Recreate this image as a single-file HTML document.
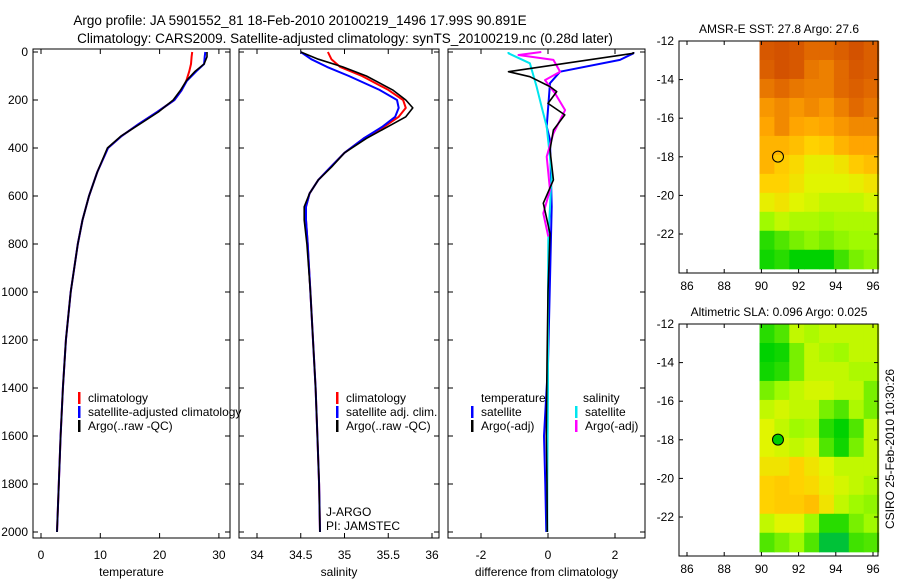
<!DOCTYPE html>
<html><head><meta charset="utf-8">
<style>
html,body{margin:0;padding:0;background:#fff;}
svg{display:block;font-family:"Liberation Sans",Arial,sans-serif;}
</style></head>
<body>
<svg id="fig" width="900" height="580" viewBox="0 0 900 580" xmlns="http://www.w3.org/2000/svg">
<text x="300" y="25" font-size="13.5" text-anchor="middle">Argo profile: JA 5901552_81 18-Feb-2010 20100219_1496 17.99S 90.891E</text>
<text x="345" y="43" font-size="13.5" text-anchor="middle">Climatology: CARS2009. Satellite-adjusted climatology: synTS_20100219.nc (0.28d later)</text>
<g id="g"></g>
</svg>
<script>
// ---------- data ----------
const tDepth = [0,20,50,80,120,160,200,250,300,350,400,500,600,700,800,1000,1200,1400,1600,1800,2000];
const tArgo  = [28.0,28.0,27.5,26.0,24.5,23.5,22.3,19.8,16.7,13.5,11.2,9.5,8.1,7.0,6.2,5.0,4.2,3.7,3.3,3.0,2.7];
const tClim  = [25.5,25.4,25.3,25.0,24.5,23.7,22.5,19.6,16.5,13.6,11.3,9.5,8.1,7.0,6.2,5.0,4.2,3.7,3.3,3.0,2.7];
const tSat   = [27.7,27.6,27.5,26.2,24.6,23.7,22.5,19.6,16.5,13.6,11.3,9.5,8.1,7.0,6.2,5.0,4.2,3.7,3.3,3.0,2.7];

const sDepth = [0,30,62,100,158,200,233,270,312,360,420,480,533,590,645,700,800,1000,1200,1400,1600,1800,2000];
const sArgo  = [34.50,34.70,34.98,35.25,35.55,35.70,35.78,35.70,35.49,35.25,35.00,34.85,34.70,34.60,34.54,34.54,34.57,34.61,34.64,34.67,34.69,34.71,34.72];
const sClim  = [34.81,34.85,34.95,35.20,35.50,35.67,35.70,35.62,35.45,35.22,35.00,34.84,34.70,34.60,34.56,34.56,34.58,34.61,34.64,34.67,34.69,34.71,34.72];
const sSat   = [34.50,34.62,34.80,35.05,35.40,35.60,35.62,35.58,35.43,35.22,35.00,34.84,34.70,34.60,34.56,34.56,34.58,34.61,34.64,34.67,34.69,34.71,34.72];

const dBlkDepth = [0,5.6,82,103,144,165,214,262,325,408,533,630,756,1000,1300,1600,1800,2000];
const dBlkVal   = [2.55,2.55,-1.18,-0.54,0.06,0.26,0.0,0.5,0.16,0.06,0.16,-0.14,0.06,0.0,-0.03,-0.05,-0.03,-0.02];
const dBluDepth = [0,5.6,33,82,130,311,367,644,1000,1300,1600,1800,2000];
const dBluVal   = [2.55,2.55,2.15,0.36,0.06,-0.04,0.06,0.11,0.05,0.0,-0.12,-0.08,-0.05];
const dMagDepth = [0,12.5,33,82,117,172,242,339,436,575,672,769];
const dMagVal   = [-0.2,-0.88,0.16,0.36,-0.09,0.21,0.51,0.16,-0.04,0.06,-0.14,0.01];
const dCyaDepth = [0,5.6,47,144,228,311,506,783,1000,1400,1800,2000];
const dCyaVal   = [-1.18,-1.18,-0.54,-0.34,-0.19,-0.04,0.11,0.01,0.0,0.0,-0.02,-0.02];

const depthTicks = [0,200,400,600,800,1000,1200,1400,1600,1800,2000];
const tTicks = [0,10,20,30];
const sTicks = [34,34.5,35,35.5,36];
const sTickLabels = ["34","34.5","35","35.5","36"];
const dTicks = [-2,0,2];
const lonTicks = [86,88,90,92,94,96];
const latTicks = [-12,-14,-16,-18,-20,-22];

const sstGrid = [
[0.90,0.92,0.90,0.85,0.85,0.88,0.92,0.88],
[0.88,0.92,0.90,0.82,0.80,0.85,0.90,0.88],
[0.82,0.85,0.82,0.80,0.80,0.85,0.88,0.85],
[0.75,0.78,0.75,0.78,0.75,0.80,0.85,0.82],
[0.72,0.78,0.72,0.70,0.72,0.75,0.78,0.78],
[0.68,0.68,0.65,0.60,0.62,0.68,0.72,0.72],
[0.68,0.62,0.58,0.52,0.52,0.55,0.62,0.65],
[0.60,0.60,0.55,0.50,0.50,0.50,0.52,0.55],
[0.52,0.55,0.50,0.48,0.45,0.45,0.45,0.48],
[0.40,0.45,0.42,0.42,0.40,0.42,0.42,0.42],
[0.25,0.30,0.35,0.38,0.35,0.38,0.40,0.40],
[0.22,0.25,0.20,0.20,0.20,0.28,0.35,0.38]];
const slaGrid = [
[0.25,0.30,0.45,0.42,0.45,0.45,0.45,0.45],
[0.20,0.22,0.35,0.45,0.42,0.40,0.45,0.45],
[0.22,0.25,0.35,0.45,0.45,0.45,0.42,0.42],
[0.35,0.40,0.45,0.48,0.48,0.45,0.45,0.35],
[0.45,0.48,0.45,0.45,0.35,0.30,0.42,0.35],
[0.50,0.45,0.40,0.42,0.25,0.20,0.30,0.45],
[0.50,0.48,0.45,0.48,0.30,0.22,0.35,0.45],
[0.55,0.55,0.60,0.55,0.50,0.45,0.45,0.45],
[0.60,0.62,0.60,0.58,0.52,0.48,0.45,0.42],
[0.60,0.62,0.62,0.65,0.55,0.45,0.40,0.38],
[0.45,0.50,0.50,0.40,0.25,0.25,0.35,0.40],
[0.30,0.35,0.40,0.30,0.12,0.12,0.28,0.30]];
const argoLon = 90.891, argoLat = -17.99;

// ---------- helpers ----------
const NS = "http://www.w3.org/2000/svg";
const G = document.getElementById('g');
function mk(tag, attrs, parent){ const e=document.createElementNS(NS,tag); for(const k in attrs) e.setAttribute(k,attrs[k]); (parent||G).appendChild(e); return e; }
const yD = d => 52 + d*0.24;
const Y0 = 49, Y1 = 538;

function panel(name, x0, x1, xs, ticks, labels, xlabel){
  const r = mk('rect',{x:x0,y:Y0,width:x1-x0,height:Y1-Y0,fill:'none',stroke:'#000','stroke-width':1});
  
  
  depthTicks.forEach(d=>{
    const y=yD(d);
    const a=mk('line',{x1:x0,x2:x0+5,y1:y,y2:y,stroke:'#000'});
    
    
    const b=mk('line',{x1:x1-5,x2:x1,y1:y,y2:y,stroke:'#000'});
    
    
  });
  ticks.forEach((t,i)=>{
    const x=xs(t);
    const a=mk('line',{x1:x,x2:x,y1:Y0,y2:Y0+5,stroke:'#000'});
    
    
    const b=mk('line',{x1:x,x2:x,y1:Y1-5,y2:Y1,stroke:'#000'});
    
    
    const t2=mk('text',{x:x,y:559,'font-size':12,'text-anchor':'middle'}); t2.textContent=labels[i];
    
    
  });
  const xl=mk('text',{x:(x0+x1)/2,y:576,'font-size':12,'text-anchor':'middle'}); xl.textContent=xlabel;
  
  
}
function series(name, xs, depth, vals, color, w){
  const pts = depth.map((d,i)=>xs(vals[i]).toFixed(1)+','+yD(d).toFixed(1)).join(' ');
  const p = mk('polyline',{points:pts,fill:'none',stroke:color,'stroke-width':w||2,'stroke-linejoin':'round'});
  
  
}
function legend(name, x, y, color, label){
  if(color){
    const b=mk('rect',{x:x,y:y-10,width:2.5,height:12,fill:color});
    
    
  }
  const t=mk('text',{x:x+10,y:y,'font-size':12}); t.textContent=label;
  
  
}

depthTicks.forEach(d=>{
  const t=mk('text',{x:28,y:yD(d)+4,'font-size':12,'text-anchor':'end'}); t.textContent=String(d);
  
  
});

const xT = v => 41 + v*5.93;
panel('temperature-panel',33,230,xT,tTicks,tTicks.map(String),'temperature');
series('temp-climatology-line',xT,tDepth,tClim,'#ff0000');
series('temp-satellite-line',xT,tDepth,tSat,'#0000ff');
series('temp-argo-line',xT,tDepth,tArgo,'#000000',1.6);
legend('legend-climatology',78,402,'#ff0000','climatology');
legend('legend-satellite-adjusted',78,416,'#0000ff','satellite-adjusted climatology');
legend('legend-argo-raw',78,430,'#000000','Argo(..raw -QC)');

const xS = v => 257 + (v-34)*87.5;
panel('salinity-panel',239,439,xS,sTicks,sTickLabels,'salinity');
series('sal-climatology-line',xS,sDepth,sClim,'#ff0000');
series('sal-satellite-line',xS,sDepth,sSat,'#0000ff');
series('sal-argo-line',xS,sDepth,sArgo,'#000000',1.6);
legend('legend-sal-climatology',336,402,'#ff0000','climatology');
legend('legend-sal-satellite',336,416,'#0000ff','satellite adj. clim.');
legend('legend-sal-argo',336,430,'#000000','Argo(..raw -QC)');
legend('j-argo-label',316,516,null,'J-ARGO');
legend('pi-jamstec-label',316,530,null,'PI: JAMSTEC');

const xDf = v => 548 + v*33.5;
panel('difference-panel',448,645,xDf,dTicks,dTicks.map(String),'difference from climatology');
series('diff-temp-satellite-line',xDf,dBluDepth,dBluVal,'#0000ff');
series('diff-sal-satellite-line',xDf,dCyaDepth,dCyaVal,'#00e5ee');
series('diff-sal-argo-line',xDf,dMagDepth,dMagVal,'#ff00ff');
series('diff-temp-argo-line',xDf,dBlkDepth,dBlkVal,'#000000',1.6);
legend('legend-temperature-header',471,402,null,'temperature');
legend('legend-salinity-header',573,402,null,'salinity');
legend('legend-diff-temp-sat',471,416,'#0000ff','satellite');
legend('legend-diff-temp-argo',471,430,'#000000','Argo(-adj)');
legend('legend-diff-sal-sat',575,416,'#00e5ee','satellite');
legend('legend-diff-sal-argo',575,430,'#ff00ff','Argo(-adj)');

const stops=[[0.0,[0,170,140]],[0.2,[0,210,0]],[0.4,[160,250,0]],[0.5,[225,245,0]],[0.6,[255,210,0]],[0.72,[255,165,0]],[0.85,[225,105,0]],[1.0,[195,55,0]]];
function cmap(v){
  for(let i=1;i<stops.length;i++){ if(v<=stops[i][0]){ const a=stops[i-1],b=stops[i]; const f=(v-a[0])/(b[0]-a[0]);
    return 'rgb('+a[1].map((c,k)=>Math.round(c+(b[1][k]-c)*f)).join(',')+')'; } }
  return 'rgb(195,55,0)';
}
function mapPanel(name, top, grid, title, filled){
  const xL = lon => 687 + (lon-86)*18.6;
  const yL = lat => top + (-12-lat)*19.3;
  const tt=mk('text',{x:779,y:top-8,'font-size':12,'text-anchor':'middle'}); tt.textContent=title;
  
  
  const nr=grid.length, nc=grid[0].length;
  const lon0=89.9, lon1=96.3, lat0=-12, lat1=-23.8;
  const cw=(xL(lon1)-xL(lon0))/nc, ch=(yL(lat1)-yL(lat0))/nr;
  grid.forEach((row,r)=>row.forEach((v,c)=>{
    const cell=mk('rect',{x:(xL(lon0)+c*cw).toFixed(2),y:(yL(lat0)+r*ch).toFixed(2),width:(cw+0.6).toFixed(2),height:(ch+0.6).toFixed(2),fill:cmap(v)});
    
    
  }));
  const fr=mk('rect',{x:679,y:top,width:199,height:232,fill:'none',stroke:'#000'});
  
  
  lonTicks.forEach(l=>{
    const x=xL(l);
    const a=mk('line',{x1:x,x2:x,y1:top,y2:top+4,stroke:'#000'});
    
    
    const b=mk('line',{x1:x,x2:x,y1:top+228,y2:top+232,stroke:'#000'});
    
    
    const t=mk('text',{x:x,y:top+249,'font-size':12,'text-anchor':'middle'}); t.textContent=String(l);
    
    
  });
  latTicks.forEach(l=>{
    const y=yL(l);
    const a=mk('line',{x1:679,x2:683,y1:y,y2:y,stroke:'#000'});
    
    
    const b=mk('line',{x1:874,x2:878,y1:y,y2:y,stroke:'#000'});
    
    
    const t=mk('text',{x:674,y:y+4,'font-size':12,'text-anchor':'end'}); t.textContent=String(l);
    
    
  });
  const c=mk('circle',{cx:xL(argoLon),cy:yL(argoLat),r:5.5,fill:filled||'none',stroke:'#000','stroke-width':1});
  
  
}
mapPanel('sst-map',41,sstGrid,'AMSR-E SST: 27.8 Argo: 27.6',null);
mapPanel('sla-map',324,slaGrid,'Altimetric SLA: 0.096 Argo: 0.025','#00cc00');

const cr=mk('text',{x:0,y:0,'font-size':12,'text-anchor':'middle',transform:'translate(894,449) rotate(-90)'});
cr.textContent='CSIRO 25-Feb-2010 10:30:26';


</script>
</body></html>
